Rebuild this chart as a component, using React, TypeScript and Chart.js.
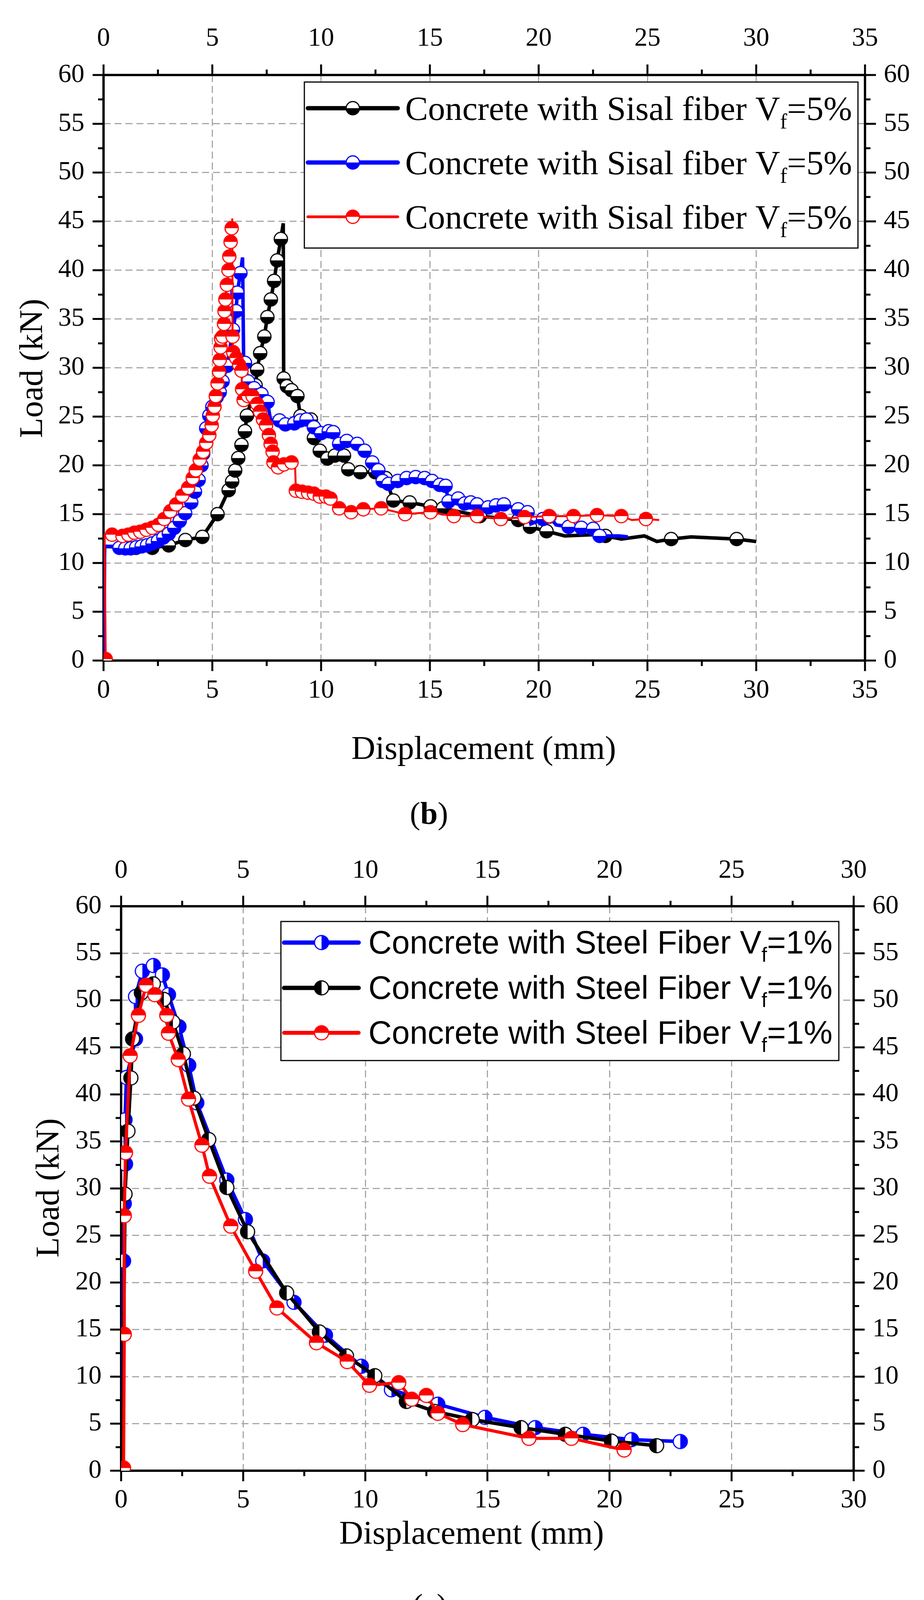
import { useEffect, useRef } from "react";
import { Chart, registerables } from "chart.js";

Chart.register(...registerables);

const SERIF = "'Liberation Serif', 'Times New Roman', serif";
const SANS = "'Liberation Sans', Arial, sans-serif";

// ---- (b) sisal fibre specimens ----
const sisalLabel = ["Concrete with Sisal fiber V", "f", "=5%"];

const sisalBlackX = [0, 0.05, 1.49, 2.24, 3.0, 3.76, 4.54, 5.24, 5.75, 5.91, 6.05, 6.19, 6.34, 6.5, 6.59, 6.99, 7.06, 7.2, 7.39, 7.53, 7.69, 7.84, 7.98, 8.15, 8.26, 8.28, 8.43, 8.64, 8.91, 9.05, 9.53, 9.67, 9.94, 10.29, 10.63, 11.05, 11.25, 11.8, 12.49, 12.97, 13.32, 14.07, 15.03, 15.6, 17.3, 19.06, 19.6, 20.36, 21.2, 22.5, 23.07, 23.8, 24.86, 25.43, 26.09, 27.0, 29.1, 30.0];
const sisalBlackY = [0, 11.7, 11.55, 11.55, 11.8, 12.35, 12.67, 15.0, 17.46, 18.35, 19.47, 20.75, 22.1, 23.5, 25.1, 28.2, 29.8, 31.5, 33.2, 35.2, 37.0, 38.9, 41.0, 43.2, 44.8, 28.9, 28.1, 27.7, 27.1, 25.05, 24.7, 22.8, 21.5, 20.7, 21.0, 21.0, 19.6, 19.3, 19.3, 18.7, 16.4, 16.2, 15.8, 15.6, 14.8, 14.4, 13.7, 13.25, 12.77, 12.9, 12.77, 12.45, 12.77, 12.2, 12.45, 12.67, 12.45, 12.2];
const sisalBlackPlain = [0, 1, 24, 48, 49, 51, 52, 53, 55, 57];

const sisalBlueX = [0, 0.05, 0.5, 0.73, 1.0, 1.25, 1.5, 1.75, 2.0, 2.25, 2.5, 2.75, 3.0, 3.25, 3.5, 3.75, 4.03, 4.2, 4.37, 4.5, 4.58, 4.72, 4.86, 5.0, 5.2, 5.34, 5.47, 5.68, 5.95, 6.09, 6.15, 6.29, 6.39, 6.44, 6.5, 6.64, 6.92, 7.26, 7.54, 7.67, 8.09, 8.36, 8.77, 9.05, 9.33, 9.67, 10.0, 10.35, 10.56, 10.83, 11.18, 11.66, 12.0, 12.35, 12.63, 12.83, 13.1, 13.52, 13.93, 14.35, 14.76, 15.1, 15.45, 15.72, 15.86, 16.3, 16.6, 16.88, 17.17, 17.68, 18.04, 18.4, 19.06, 19.49, 19.64, 20.2, 20.5, 20.8, 21.38, 21.96, 22.5, 22.8, 23.7, 24.1];
const sisalBlueY = [0, 11.7, 11.7, 11.55, 11.5, 11.5, 11.6, 11.7, 11.8, 12.0, 12.25, 12.6, 13.0, 13.6, 14.3, 15.1, 16.2, 17.3, 18.5, 20.0, 21.2, 23.8, 25.1, 26.0, 27.0, 27.5, 28.6, 30.2, 33.9, 35.8, 37.7, 39.7, 41.3, 30.5, 30.5, 28.6, 27.9, 27.3, 26.5, 24.7, 24.6, 24.2, 24.3, 24.6, 24.7, 23.9, 23.3, 23.5, 23.4, 22.2, 22.5, 22.2, 21.5, 20.3, 19.5, 18.4, 18.1, 18.4, 18.7, 18.8, 18.7, 18.4, 18.0, 17.9, 16.3, 16.6, 16.1, 16.2, 16.0, 15.7, 15.9, 16.0, 15.5, 15.2, 14.0, 14.5, 14.75, 13.9, 13.7, 13.6, 13.5, 12.77, 12.77, 12.67];
const sisalBluePlain = [0, 1, 2, 32, 33, 39, 74, 77, 82, 83];

const sisalRedX = [0.1, 0.05, 0.39, 0.87, 1.14, 1.42, 1.69, 1.97, 2.24, 2.52, 2.79, 3.07, 3.34, 3.62, 3.89, 4.1, 4.24, 4.42, 4.58, 4.72, 4.86, 4.97, 5.02, 5.1, 5.16, 5.24, 5.31, 5.34, 5.38, 5.4, 5.47, 5.54, 5.56, 5.6, 5.67, 5.74, 5.78, 5.84, 5.89, 5.92, 5.93, 5.96, 6.1, 6.23, 6.34, 6.37, 6.44, 6.64, 6.85, 7.06, 7.19, 7.33, 7.47, 7.6, 7.68, 7.77, 7.81, 8.02, 8.29, 8.64, 8.8, 8.84, 9.12, 9.4, 9.67, 9.94, 10.22, 10.43, 10.83, 11.38, 11.94, 12.76, 13.86, 15.03, 16.1, 17.17, 18.26, 19.35, 20.48, 21.6, 22.68, 23.8, 24.28, 24.93, 25.54];
const sisalRedY = [0.15, 12.9, 12.9, 12.77, 12.9, 13.1, 13.2, 13.4, 13.6, 13.9, 14.5, 15.3, 16.0, 16.9, 17.7, 18.7, 19.5, 20.6, 21.4, 22.3, 23.1, 24.1, 25.1, 26.0, 27.1, 28.4, 29.6, 30.8, 32.1, 33.0, 33.2, 34.5, 35.8, 37.0, 38.5, 40.0, 41.4, 42.9, 44.3, 45.3, 33.2, 31.6, 31.0, 30.3, 29.7, 27.8, 26.7, 27.1, 27.1, 26.3, 25.5, 24.7, 24.1, 23.1, 22.2, 21.4, 20.3, 19.8, 20.1, 20.3, 20.3, 17.4, 17.3, 17.2, 17.1, 16.8, 16.8, 16.6, 15.6, 15.2, 15.5, 15.6, 15.0, 15.2, 14.8, 14.8, 14.5, 14.7, 14.8, 14.8, 14.9, 14.8, 14.4, 14.5, 14.4];
const sisalRedPlain = [1, 39, 60, 82, 84];

// ---- (c) steel fibre specimens ----
const steelLabel = ["Concrete with Steel Fiber V", "f", "=1%"];

const steelBlueX = [0.05, 0.1, 0.13, 0.18, 0.16, 0.22, 0.59, 0.59, 0.87, 1.32, 1.69, 1.94, 2.37, 2.77, 3.1, 4.33, 5.09, 5.8, 7.08, 8.37, 9.84, 11.07, 12.97, 14.9, 16.96, 18.92, 20.9, 22.9];
const steelBlueY = [0, 22.3, 28.4, 32.6, 37.3, 41.8, 45.9, 50.4, 53.1, 53.7, 52.7, 50.6, 47.2, 43.1, 39.1, 30.9, 26.7, 22.3, 17.9, 14.4, 11.1, 8.6, 7.07, 5.67, 4.58, 3.87, 3.3, 3.1];

const steelBlackX = [0.05, 0.16, 0.28, 0.4, 0.47, 0.83, 1.32, 1.75, 2.12, 2.55, 2.98, 3.59, 4.33, 5.18, 6.78, 8.12, 9.23, 10.39, 11.68, 12.84, 14.38, 16.38, 18.19, 20.08, 21.93];
const steelBlackY = [0, 29.4, 36.1, 41.75, 45.9, 50.8, 51.75, 50.1, 47.7, 44.3, 39.6, 35.2, 30.1, 25.4, 18.9, 14.75, 12.2, 10.1, 7.36, 6.3, 5.44, 4.58, 3.87, 3.15, 2.66];

const steelRedX = [0.1, 0.13, 0.13, 0.18, 0.37, 0.71, 1.02, 1.38, 1.87, 1.94, 2.34, 2.76, 3.31, 3.62, 4.49, 5.51, 6.38, 8.0, 9.26, 10.17, 11.37, 11.9, 12.5, 12.97, 13.99, 16.7, 18.44, 20.6];
const steelRedY = [0.29, 14.5, 27.1, 33.8, 44.1, 48.4, 51.6, 50.6, 48.4, 46.5, 43.7, 39.5, 34.6, 31.3, 26.0, 21.2, 17.3, 13.6, 11.6, 9.08, 9.36, 7.6, 8.0, 6.1, 4.9, 3.44, 3.44, 2.2];

const xTickLabelsSisal = [0, 5, 10, 15, 20, 25, 30, 35];
const xTickLabelsSteel = [0, 5, 10, 15, 20, 25, 30];
const yTickLabels = [0, 5, 10, 15, 20, 25, 30, 35, 40, 45, 50, 55, 60];

type Half = "top" | "bottom" | "left" | "right";

interface Series {
  label: string[];
  x: number[];
  y: number[];
  color: string;
  half: Half;
  lineWidth: number;
  plain: number[];
  order: number;
}

interface PanelSpec {
  height: number;
  area: { left: number; right: number; top: number; bottom: number };
  xTicks: number[];
  pad: { left: number; right: number; top: number; bottom: number };
  xTitle: [number, number];
  yTitle: [number, number];
  caption: [string, number, number];
  legend: {
    box: [number, number, number, number];
    rows: number[];
    line: [number, number];
    marker: number;
    textX: number;
    textW: number;
    font: string;
  };
  radius: number;
  series: Series[];
}

const sisalSpec: PanelSpec = {
  height: 2140,
  area: { left: 265, right: 2214, top: 192, bottom: 1691 },
  xTicks: xTickLabelsSisal,
  pad: { left: 49, right: 48, top: 52, bottom: 37 },
  xTitle: [1238, 1921],
  yTitle: [86, 943],
  caption: ["b", 1098, 2088],
  legend: {
    box: [779, 210, 2196, 635],
    rows: [277, 416, 555],
    line: [788, 1018],
    marker: 903,
    textX: 1037,
    textW: 1144,
    font: SERIF,
  },
  radius: 17,
  series: [
    { label: sisalLabel, x: sisalBlackX, y: sisalBlackY, color: "#000000", half: "bottom", lineWidth: 9, plain: sisalBlackPlain, order: 3 },
    { label: sisalLabel, x: sisalBlueX, y: sisalBlueY, color: "#0000ff", half: "bottom", lineWidth: 9, plain: sisalBluePlain, order: 2 },
    { label: sisalLabel, x: sisalRedX, y: sisalRedY, color: "#ff0000", half: "top", lineWidth: 5, plain: sisalRedPlain, order: 1 },
  ],
};

const steelSpec: PanelSpec = {
  height: 2041,
  area: { left: 310, right: 2185, top: 180, bottom: 1625 },
  xTicks: xTickLabelsSteel,
  pad: { left: 50, right: 48, top: 50, bottom: 36 },
  xTitle: [1207, 1790],
  yTitle: [128, 901],
  caption: ["c", 1100, 1975],
  legend: {
    box: [719, 219, 2147, 575],
    rows: [273, 389, 504],
    line: [727, 918],
    marker: 823,
    textX: 943,
    textW: 1188,
    font: SANS,
  },
  radius: 18,
  series: [
    { label: steelLabel, x: steelBlueX, y: steelBlueY, color: "#0000ff", half: "right", lineWidth: 9, plain: [0], order: 3 },
    { label: steelLabel, x: steelBlackX, y: steelBlackY, color: "#000000", half: "left", lineWidth: 9, plain: [0], order: 2 },
    { label: steelLabel, x: steelRedX, y: steelRedY, color: "#ff0000", half: "top", lineWidth: 8, plain: [], order: 1 },
  ],
};

function makeMarker(color: string, half: Half, r: number, lw: number) {
  const c = document.createElement("canvas");
  const s = Math.ceil(2 * (r + lw)) + 2;
  c.width = s;
  c.height = s;
  const g = c.getContext("2d")!;
  const m = s / 2;
  g.beginPath();
  g.arc(m, m, r, 0, Math.PI * 2);
  g.fillStyle = "#ffffff";
  g.fill();
  const start = { bottom: 0, top: Math.PI, right: -Math.PI / 2, left: Math.PI / 2 }[half];
  g.beginPath();
  g.moveTo(m, m);
  g.arc(m, m, r, start, start + Math.PI);
  g.closePath();
  g.fillStyle = color;
  g.fill();
  g.beginPath();
  g.arc(m, m, r, 0, Math.PI * 2);
  g.lineWidth = lw;
  g.strokeStyle = color;
  g.stroke();
  return c;
}

function richWidth(ctx: CanvasRenderingContext2D, parts: string[], fam: string, size: number) {
  ctx.font = `${size}px ${fam}`;
  let w = ctx.measureText(parts[0]).width + ctx.measureText(parts[2]).width;
  ctx.font = `${size * 0.62}px ${fam}`;
  w += ctx.measureText(parts[1]).width;
  return w;
}

function drawRich(ctx: CanvasRenderingContext2D, parts: string[], fam: string, size: number, x: number, base: number) {
  ctx.textAlign = "left";
  ctx.textBaseline = "alphabetic";
  ctx.fillStyle = "#000";
  ctx.font = `${size}px ${fam}`;
  ctx.fillText(parts[0], x, base);
  x += ctx.measureText(parts[0]).width;
  ctx.font = `${size * 0.62}px ${fam}`;
  ctx.fillText(parts[1], x, base + size * 0.25);
  x += ctx.measureText(parts[1]).width;
  ctx.font = `${size}px ${fam}`;
  ctx.fillText(parts[2], x, base);
}

function decor(spec: PanelSpec, markers: HTMLCanvasElement[]) {
  return {
    id: "decor",
    beforeDatasetsDraw(chart: Chart) {
      const { ctx, chartArea: a, scales } = chart;
      const xs = scales.x;
      const ys = scales.y;
      const xMax = spec.xTicks[spec.xTicks.length - 1];
      ctx.save();
      ctx.strokeStyle = "#000";
      ctx.lineWidth = 5;
      ctx.beginPath();
      for (let v = 0; v <= xMax + 1e-9; v += 2.5) {
        const len = Math.abs(v % 5) < 1e-9 ? 27 : 14;
        const px = xs.getPixelForValue(v);
        ctx.moveTo(px, a.bottom);
        ctx.lineTo(px, a.bottom + len);
        ctx.moveTo(px, a.top);
        ctx.lineTo(px, a.top - len);
      }
      for (let v = 0; v <= 60 + 1e-9; v += 2.5) {
        const len = Math.abs(v % 5) < 1e-9 ? 28 : 14;
        const py = ys.getPixelForValue(v);
        ctx.moveTo(a.left, py);
        ctx.lineTo(a.left - len, py);
        ctx.moveTo(a.right, py);
        ctx.lineTo(a.right + len, py);
      }
      ctx.stroke();
      ctx.lineWidth = 6;
      ctx.strokeRect(a.left, a.top, a.right - a.left, a.bottom - a.top);
      ctx.restore();
    },
    afterDatasetsDraw(chart: Chart) {
      const { ctx } = chart;
      const L = spec.legend;
      ctx.save();
      // legend
      ctx.fillStyle = "#fff";
      ctx.fillRect(L.box[0], L.box[1], L.box[2] - L.box[0], L.box[3] - L.box[1]);
      ctx.strokeStyle = "#000";
      ctx.lineWidth = 3;
      ctx.strokeRect(L.box[0], L.box[1], L.box[2] - L.box[0], L.box[3] - L.box[1]);
      const w100 = richWidth(ctx, spec.series[0].label, L.font, 100);
      const size = (100 * L.textW) / w100;
      spec.series.forEach((s, i) => {
        const y = L.rows[i];
        ctx.strokeStyle = s.color;
        ctx.lineWidth = s.lineWidth + 2;
        ctx.lineCap = "round";
        ctx.beginPath();
        ctx.moveTo(L.line[0], y);
        ctx.lineTo(L.line[1], y);
        ctx.stroke();
        const m = markers[i];
        ctx.drawImage(m, L.marker - m.width / 2, y - m.height / 2);
        drawRich(ctx, s.label, L.font, size, L.textX, y + size * 0.34);
      });
      // axis titles
      ctx.fillStyle = "#000";
      ctx.font = `85px ${SERIF}`;
      ctx.textAlign = "center";
      ctx.textBaseline = "middle";
      ctx.fillText("Displacement (mm)", spec.xTitle[0], spec.xTitle[1]);
      ctx.save();
      ctx.translate(spec.yTitle[0], spec.yTitle[1]);
      ctx.rotate(-Math.PI / 2);
      ctx.fillText("Load (kN)", 0, 0);
      ctx.restore();
      // panel caption
      const [letter, cx, cy] = spec.caption;
      const reg = `80px ${SERIF}`;
      const bold = `bold 80px ${SERIF}`;
      ctx.font = reg;
      const wp = ctx.measureText("(").width;
      const wq = ctx.measureText(")").width;
      ctx.font = bold;
      const wl = ctx.measureText(letter).width;
      let x = cx - (wp + wl + wq) / 2;
      ctx.textAlign = "left";
      ctx.font = reg;
      ctx.fillText("(", x, cy);
      x += wp;
      ctx.font = bold;
      ctx.fillText(letter, x, cy);
      x += wl;
      ctx.font = reg;
      ctx.fillText(")", x, cy);
      ctx.restore();
    },
  };
}

function buildConfig(spec: PanelSpec) {
  const markers = spec.series.map((s) => makeMarker(s.color, s.half, spec.radius, 3));
  const xMax = spec.xTicks[spec.xTicks.length - 1];
  const tickFont = { family: SERIF, size: 67 };
  const grid = { color: "#a8a8a8", lineWidth: 3, drawTicks: false };
  const noGrid = { display: false, drawTicks: false };
  const { area, pad, height } = spec;
  return {
    type: "scatter" as const,
    data: {
      datasets: spec.series.map((s, k) => ({
        label: s.label.join(""),
        data: s.x.map((x, i) => ({ x, y: s.y[i] })),
        showLine: true,
        borderColor: s.color,
        backgroundColor: s.color,
        borderWidth: s.lineWidth,
        tension: 0,
        pointStyle: markers[k],
        pointRadius: (c: any) => (s.plain.includes(c.dataIndex) ? 0 : spec.radius),
        pointHoverRadius: (c: any) => (s.plain.includes(c.dataIndex) ? 0 : spec.radius),
        order: s.order,
        clip: 0,
      })),
    },
    options: {
      responsive: false,
      devicePixelRatio: 1,
      animation: false,
      events: [],
      layout: { padding: 0 },
      plugins: { legend: { display: false }, tooltip: { enabled: false }, title: { display: false } },
      scales: {
        x: {
          type: "linear",
          position: "bottom",
          min: 0,
          max: xMax,
          afterBuildTicks: (sc: any) => { sc.ticks = spec.xTicks.map((v) => ({ value: v })); },
          ticks: { font: tickFont, color: "#000", padding: pad.bottom, maxRotation: 0, autoSkip: false },
          grid,
          border: { display: false, dash: [18, 10] },
          afterFit: (sc: any) => { sc.height = height - area.bottom; },
        },
        x2: {
          type: "linear",
          position: "top",
          min: 0,
          max: xMax,
          afterBuildTicks: (sc: any) => { sc.ticks = spec.xTicks.map((v) => ({ value: v })); },
          ticks: { font: tickFont, color: "#000", padding: pad.top, maxRotation: 0, autoSkip: false },
          grid: noGrid,
          border: { display: false },
          afterFit: (sc: any) => { sc.height = area.top; },
        },
        y: {
          type: "linear",
          position: "left",
          min: 0,
          max: 60,
          afterBuildTicks: (sc: any) => { sc.ticks = yTickLabels.map((v) => ({ value: v })); },
          ticks: { font: tickFont, color: "#000", padding: pad.left, autoSkip: false },
          grid,
          border: { display: false, dash: [18, 10] },
          afterFit: (sc: any) => { sc.width = area.left; },
        },
        y2: {
          type: "linear",
          position: "right",
          min: 0,
          max: 60,
          afterBuildTicks: (sc: any) => { sc.ticks = yTickLabels.map((v) => ({ value: v })); },
          ticks: { font: tickFont, color: "#000", padding: pad.right, autoSkip: false },
          grid: noGrid,
          border: { display: false },
          afterFit: (sc: any) => { sc.width = 2365 - area.right; },
        },
      },
    },
    plugins: [decor(spec, markers)],
  };
}

function Panel({ spec, top }: { spec: PanelSpec; top: number }) {
  const canvasRef = useRef<HTMLCanvasElement>(null);

  useEffect(() => {
    const canvas = canvasRef.current;
    if (!canvas) return;
    const chart = new Chart(canvas, buildConfig(spec) as any);
    return () => chart.destroy();
  }, [spec]);

  return (
    <canvas
      ref={canvasRef}
      width={2365}
      height={spec.height}
      style={{ position: "absolute", left: 0, top, width: 2365, height: spec.height }}
    />
  );
}

export default function App() {
  return (
    <div style={{ position: "absolute", left: 0, top: 0, width: 2365, height: 4181, background: "#fff" }}>
      <Panel spec={sisalSpec} top={0} />
      <Panel spec={steelSpec} top={2140} />
    </div>
  );
}
